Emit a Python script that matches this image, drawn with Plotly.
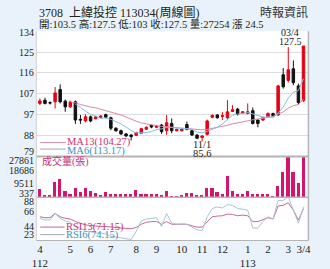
import plotly.graph_objects as go

# ---------------- data ----------------
weeks = list(range(1, 54))
opens = [102.3, 103.7, 102.6, 103.0, 108.4, 103.3, 100.8, 103.0, 95.3, 94.6,
         96.4, 95.6, 96.2, 97.4, 96.0, 91.4, 90.3, 88.9, 88.4, 88.3,
         89.2, 91.0, 92.7, 91.8, 92.8, 90.3, 93.5, 90.3, 90.3, 93.0,
         90.3, 88.4, 87.3, 88.7, 96.2, 97.2, 96.6, 96.0, 98.8, 99.8,
         98.0, 97.9, 99.1, 95.0, 95.0, 96.4, 97.9, 97.2, 114.9, 112.4,
         117.5, 110.0, 103.5]
highs = [104.5, 104.8, 103.2, 109.5, 110.7, 104.0, 103.5, 103.6, 97.2, 97.5,
         97.0, 96.8, 97.2, 97.8, 96.5, 91.8, 90.8, 89.3, 88.8, 89.8,
         91.6, 92.2, 93.1, 92.8, 93.3, 97.2, 95.7, 91.2, 91.3, 94.3,
         90.8, 88.8, 88.3, 95.2, 97.5, 97.6, 98.5, 103.7, 101.5, 100.3,
         99.0, 102.3, 100.5, 95.5, 96.4, 98.3, 98.2, 110.5, 117.9, 127.0,
         121.2, 111.0, 127.5]
lows = [101.5, 101.8, 101.8, 100.1, 102.3, 98.6, 100.3, 93.3, 93.3, 94.0,
        94.0, 95.3, 95.8, 95.8, 90.5, 89.8, 88.5, 87.5, 86.0, 88.0,
        88.8, 90.6, 91.4, 91.4, 88.9, 88.5, 89.2, 90.0, 89.9, 90.5,
        88.0, 86.6, 85.6, 88.2, 95.8, 95.6, 95.0, 95.5, 98.5, 97.0,
        97.8, 97.5, 93.0, 91.8, 94.6, 96.0, 96.6, 96.8, 108.8, 111.5,
        110.3, 101.8, 103.0]
closes = [103.4, 102.3, 102.5, 106.9, 103.0, 100.8, 102.9, 95.0, 95.0, 96.4,
          94.6, 96.4, 96.7, 96.2, 91.4, 90.3, 88.9, 88.0, 87.7, 89.5,
          91.2, 91.8, 91.9, 92.4, 89.9, 93.8, 90.3, 90.9, 90.9, 90.9,
          88.4, 87.0, 88.0, 94.6, 97.0, 96.0, 96.9, 98.6, 99.5, 97.5,
          98.6, 98.6, 93.5, 93.5, 96.0, 97.9, 96.9, 110.0, 109.6, 117.1,
          111.4, 102.7, 127.5]
volumes = [5600, 1400, 1400, 10000, 12000, 4300, 1900, 6300, 3600, 6000,
           4300, 3000, 1200, 3500, 2000, 1900, 1900, 1900, 1900, 5000,
           1900, 1900, 1900, 1900, 1500, 4100, 1000, 1000, 1400, 3000,
           3000, 1400, 1400, 6300, 6300, 3600, 2500, 14600, 4300, 2100,
           2100, 4300, 2500, 2500, 2500, 2500, 337, 7400, 16800, 27861,
           17300, 9600, 27254]
ma13 = [None] * 6 + [103.0, 102.6, 101.8, 101.2, 100.7, 100.4, 99.8, 99.3, 98.7, 98.0,
                     97.2, 96.3, 95.3, 94.5, 93.7, 93.2, 92.8, 92.5, 92.2, 92.0,
                     91.8, 91.6, 91.4, 91.2, 91.0, 90.8, 90.7, 90.9, 91.3, 91.7,
                     92.2, 92.7, 93.3, 93.8, 94.3, 94.8, 95.1, 95.4, 95.8, 96.2,
                     96.6, 97.6, 98.6, 100.2, 101.3, 101.8, 104.27]
ma6 = [None] * 7 + [101.9, 100.6, 98.9, 97.5, 96.7, 95.7, 95.9, 95.3, 94.3, 93.3,
                    91.9, 90.4, 89.3, 89.3, 89.5, 90.0, 90.8, 91.1, 91.8, 91.7,
                    91.5, 91.4, 91.1, 90.9, 89.7, 89.4, 90.0, 91.0, 91.8, 93.3,
                    95.2, 97.1, 97.6, 97.9, 98.3, 97.7, 96.9, 96.3, 96.4, 96.1,
                    98.0, 100.7, 104.6, 107.2, 108.0, 113.17]
rsi13 = [58.9, 57.5, 57.5, 63.9, 58.9, 56.5, 55.5, 51.6, 49.1, 46.6,
         45.6, 44.7, 44.2, 44.2, 43.2, 42.7, 41.7, 41.2, 40.7, 42.7,
         47.6, 50.6, 51.6, 51.6, 47.6, 51.6, 47.6, 47.6, 48.1, 47.6,
         45.2, 43.2, 43.2, 51.6, 58.9, 59.9, 60.4, 62.9, 62.4, 60.4,
         61.4, 60.4, 51.6, 51.6, 54.0, 57.5, 55.5, 75.2, 76.2, 80.1,
         68.8, 54.0, 71.15]
rsi6 = [56.5, 54.0, 54.0, 63.9, 56.5, 52.5, 50.6, 44.2, 41.7, 36.8,
        36.8, 34.3, 34.3, 32.9, 29.4, 27.9, 26.9, 25.4, 24.5, 36.8,
        52.5, 55.5, 56.5, 57.5, 44.2, 63.9, 49.1, 47.6, 48.1, 47.6,
        43.2, 39.2, 37.8, 58.9, 71.3, 73.7, 72.2, 77.2, 76.2, 71.3,
        70.3, 68.8, 41.7, 41.7, 51.6, 58.9, 55.5, 83.6, 83.6, 88.5,
        68.8, 49.1, 74.15]
x_tick_pos = [1, 7, 11, 15, 20, 24, 29, 33, 37, 42, 46, 50, 53]
x_tick_text = ['4<br>112', '5', '6', '7', '8', '9', '10', '11', '12', '1<br>113', '2', '3', '3/4']
price_ticks = [79, 88.17, 97.33, 106.5, 115.67, 124.83, 134]
price_tick_text = ['79', '88', '97', '107', '116', '125', '134']
vol_ticks = [337, 9511, 18686, 27861]
vol_tick_text = ['337', '9511', '18686', '27861']
rsi_ticks = [23, 44.67, 66.33, 88]
rsi_tick_text = ['23', '44', '66', '88']

title_text = '3708\u00a0\u00a0上緯投控 113034(周線圖)'
info_text = '開:103.5 高:127.5 低:103 收:127.5 量:27254 漲 24.5'
source_text = '時報資訊'
ma13_label = 'MA13(104.27)'
ma6_label = 'MA6(113.17)'
vol_label = '成交量(張)'
rsi13_label = 'RSI13(71.15)'
rsi6_label = 'RSI6(74.15)'
low_date, low_val = '11/1', '85.6'
last_date, last_val = '03/4', '127.5'

# ---------------- styling ----------------
W, H = 330, 269
FONT = "'Liberation Serif', 'Noto Sans CJK TC', serif"
BG = '#e9f2fa'
RED = '#e60012'
BLK = '#111111'
PINK_TXT = '#cc2f6c'
BLUE_TXT = '#3a8fbf'
MA13_C = '#d98aa8'
MA6_C = '#86bde0'
RSI13_C = '#c56a8c'
RSI6_C = '#a9c3d6'
VOL_C = '#d4146e'
GRID = '#dddddd'
BORDER = '#b4b4b4'

def py(px):
    return (H - px) / H

def px_(x):
    return x / W

X0, X1 = 33, 311
P_TOP, P_BOT = 32, 160
V_TOP, V_BOT = 160, 201.7
R_TOP, R_BOT = 202, 246

fig = go.Figure()

fig.add_trace(go.Candlestick(
    x=weeks, open=opens, high=highs, low=lows, close=closes,
    increasing=dict(line=dict(color=RED, width=1), fillcolor=RED),
    decreasing=dict(line=dict(color=BLK, width=1), fillcolor=BLK),
    whiskerwidth=0, xaxis='x', yaxis='y', showlegend=False))
fig.add_trace(go.Scatter(x=weeks, y=ma13, mode='lines', line=dict(color=MA13_C, width=1),
                         xaxis='x', yaxis='y', showlegend=False))
fig.add_trace(go.Scatter(x=weeks, y=ma6, mode='lines', line=dict(color=MA6_C, width=1),
                         xaxis='x', yaxis='y', showlegend=False))
fig.add_trace(go.Bar(x=weeks, y=volumes, marker=dict(color=VOL_C, line=dict(width=0)),
                     width=0.62, xaxis='x', yaxis='y2', showlegend=False))
fig.add_trace(go.Scatter(x=weeks, y=rsi13, mode='lines', line=dict(color=RSI13_C, width=1),
                         xaxis='x', yaxis='y3', showlegend=False))
fig.add_trace(go.Scatter(x=weeks, y=rsi6, mode='lines', line=dict(color=RSI6_C, width=1),
                         xaxis='x', yaxis='y3', showlegend=False))

fig.update_layout(
    width=W, height=H, margin=dict(l=0, r=0, t=0, b=0),
    paper_bgcolor=BG, plot_bgcolor='white',
    font=dict(family=FONT, size=11, color='#222'),
    bargap=0,
    xaxis=dict(domain=[px_(X0), px_(X1)], range=[0.29, 53.97], anchor='y3',
               tickmode='array', tickvals=x_tick_pos, ticktext=x_tick_text,
               tickfont=dict(family=FONT, size=11, color='#222'),
               showgrid=False, zeroline=False, ticks='', showline=False,
               rangeslider=dict(visible=False), fixedrange=True),
    yaxis=dict(domain=[py(P_BOT), py(P_TOP)], range=[79, 134], anchor='x',
               tickmode='array', tickvals=price_ticks[1:-1], showticklabels=False,
               showgrid=True, gridcolor=GRID, gridwidth=1, zeroline=False, ticks=''),
    yaxis2=dict(domain=[py(V_BOT), py(V_TOP)], range=[337, 27861], anchor='x',
                showticklabels=False, showgrid=False, zeroline=False, ticks=''),
    yaxis3=dict(domain=[py(R_BOT), py(R_TOP)], range=[23, 88], anchor='x',
                showticklabels=False, showgrid=False, zeroline=False, ticks=''),
)

ann = []
def label(x, y, text, xanchor='left', size=10.5, color='#222', xref='paper', yref='paper', yshift=0):
    ann.append(dict(x=x, y=y, text=text, xref=xref, yref=yref, xanchor=xanchor,
                    yanchor='middle', showarrow=False, yshift=yshift, borderpad=0,
                    font=dict(family=FONT, size=size, color=color)))

# y-axis labels
ax_label_x = px_(32)
for v, t in zip(price_ticks, price_tick_text):
    sh = 5 if v == price_ticks[0] else (-1 if v == price_ticks[-1] else 0)
    label(ax_label_x, v, t, xanchor='right', yref='y', yshift=sh, size=10)
for v, t in zip(vol_ticks, vol_tick_text):
    sh = 4 if v == vol_ticks[0] else (-4 if v == vol_ticks[-1] else 0)
    label(ax_label_x, v, t, xanchor='right', yref='y2', yshift=sh, size=10)
for v, t in zip(rsi_ticks, rsi_tick_text):
    sh = 6 if v == rsi_ticks[0] else (-4.5 if v == rsi_ticks[-1] else 0)
    label(ax_label_x, v, t, xanchor='right', yref='y3', yshift=sh, size=10)

# header
label(px_(35), py(13), title_text, size=12, color='#231f20')
label(px_(35), py(25), info_text, size=10.5, color='#231f20')
label(px_(312), py(13), source_text, xanchor='right', size=12, color='#333')

# price annotations
label(weeks[32], py(148.3), low_date, xanchor='center', size=10.5, xref='x')
label(weeks[32], py(157), low_val, xanchor='center', size=10.5, xref='x')
label(px_(292.5), py(33.5), last_date, xanchor='center', size=10)
label(px_(292.5), py(42), last_val, xanchor='center', size=10)

# legends
label(px_(63), py(145.7), ma13_label, size=10.5, color=PINK_TXT)
label(px_(63), py(154.2), ma6_label, size=10.5, color=BLUE_TXT)
label(px_(38), py(165.5), vol_label, size=10, color=PINK_TXT)
label(px_(62), py(232.3), rsi13_label, size=10.5, color=PINK_TXT)
label(px_(62), py(240.7), rsi6_label, size=10.5, color=BLUE_TXT)

fig.update_layout(annotations=ann)

shapes = []
def hline(x0, x1, y, color, width):
    shapes.append(dict(type='line', xref='paper', yref='paper', x0=px_(x0), x1=px_(x1),
                       y0=py(y), y1=py(y), line=dict(color=color, width=width)))
def vline(x, y0, y1, color, width):
    shapes.append(dict(type='line', xref='paper', yref='paper', x0=px_(x), x1=px_(x),
                       y0=py(y0), y1=py(y1), line=dict(color=color, width=width)))

hline(37, 63, 145.7, MA13_C, 1)
hline(37, 63, 152.5, '#a0a8b0', 1)
hline(37, 62, 232.3, RSI13_C, 1)
hline(37, 62, 240.0, '#a0a8b0', 1)
hline(X0, X1, V_TOP, BORDER, 2)
hline(X0, X1, V_BOT, BORDER, 1.5)
hline(X0, X1, R_BOT, BORDER, 1)
vline(X1, P_TOP, R_BOT, BORDER, 1.5)
vline(X0, P_TOP, R_BOT, '#d0d0d0', 1)
fig.update_layout(shapes=shapes)

fig.write_html('out.html')
